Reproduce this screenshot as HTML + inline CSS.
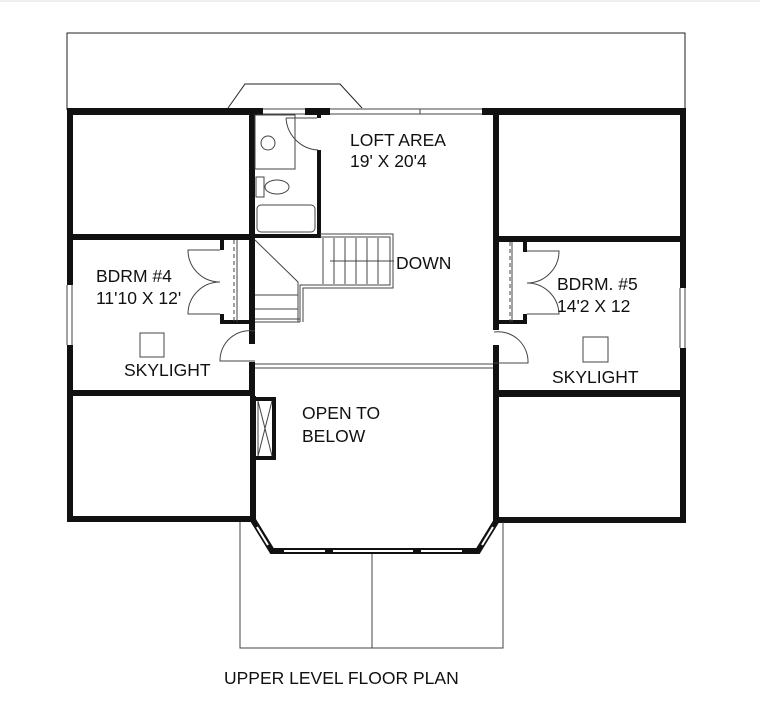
<!DOCTYPE html>
<html><head><meta charset="utf-8"><style>
html,body{margin:0;padding:0;background:#fff}
svg{display:block}
text{font-family:"Liberation Sans",Arial,sans-serif;font-size:17.5px;fill:#111}
</style></head><body>
<svg width="760" height="708" viewBox="0 0 760 708" xmlns="http://www.w3.org/2000/svg">
<rect width="760" height="708" fill="#fff"/>
<line x1="0" y1="1" x2="760" y2="1" stroke="#ddd" stroke-width="1"/>
<polyline points="67,110 67,33 685,33 685,110" fill="none" stroke="#222" stroke-width="1"/>
<polyline points="228,108 245,84 340,84 362,108" fill="none" stroke="#222" stroke-width="1"/>
<g fill="#111">
<rect x="67" y="108" width="196" height="7"/>
<rect x="305" y="108" width="25" height="7"/>
<rect x="482" y="108" width="204" height="7"/>
</g>
<g stroke="#444" stroke-width="1" fill="none">
<line x1="263" y1="109" x2="305" y2="109"/><line x1="263" y1="114" x2="305" y2="114"/>
<line x1="330" y1="109" x2="482" y2="109"/><line x1="330" y1="114" x2="482" y2="114"/>
<line x1="420" y1="109" x2="420" y2="114"/>
</g>
<g fill="#111">
<rect x="67" y="108" width="6" height="177"/>
<rect x="67" y="345" width="6" height="177"/>
<rect x="67" y="234" width="188" height="6"/>
<rect x="67" y="390" width="188" height="6"/>
<rect x="67" y="516" width="189" height="6"/>
<rect x="249" y="108" width="6" height="236"/>
<rect x="249" y="362" width="6" height="34"/>
<rect x="250" y="396" width="6" height="126"/>
<rect x="255" y="234" width="65" height="4"/>
<rect x="317" y="150" width="4" height="88"/>
<rect x="317" y="112" width="4" height="6"/>
<rect x="220" y="240" width="4" height="10"/>
<rect x="220" y="314" width="4" height="10"/>
<rect x="220" y="320" width="32" height="4"/>
<rect x="255" y="397" width="21" height="4"/>
<rect x="255" y="456" width="21" height="4"/>
<rect x="272" y="397" width="4" height="63"/>
<rect x="493" y="108" width="6" height="222"/>
<rect x="493" y="345" width="6" height="177"/>
<rect x="680" y="108" width="6" height="180"/>
<rect x="680" y="348" width="6" height="175"/>
<rect x="499" y="236" width="187" height="6"/>
<rect x="497" y="390" width="189" height="7"/>
<rect x="497" y="517" width="189" height="6"/>
<rect x="523" y="242" width="4" height="10"/>
<rect x="523" y="314" width="4" height="10"/>
<rect x="497" y="320" width="30" height="4"/>
</g>
<g stroke="#444" stroke-width="1" fill="none">
<line x1="67" y1="285" x2="67" y2="345"/><line x1="72" y1="285" x2="72" y2="345"/>
<line x1="680" y1="288" x2="680" y2="348"/><line x1="685" y1="288" x2="685" y2="348"/>
<line x1="258" y1="401" x2="272" y2="456"/><line x1="272" y1="401" x2="258" y2="456"/>
<line x1="258" y1="401" x2="258" y2="456"/>
<line x1="255" y1="364" x2="493" y2="364"/><line x1="255" y1="368" x2="493" y2="368"/>
<rect x="255" y="115" width="40" height="54"/>
<circle cx="268" cy="143" r="7"/>
<rect x="256" y="177" width="8" height="20"/>
<ellipse cx="277" cy="187" rx="12" ry="7"/>
<rect x="257" y="205" width="58" height="27" rx="4"/>
<path d="M286,118 A34,34 0 0 0 318,150"/>
<line x1="286" y1="118" x2="317" y2="118"/>
<path d="M220,250 L188,250 A32,32 0 0 0 220,282 A32,32 0 0 0 188,314 L220,314"/>
<line x1="234" y1="240" x2="234" y2="322" stroke-dasharray="4,3"/>
<line x1="237" y1="240" x2="237" y2="322"/>
<path d="M527,251 L559,251 A32,32 0 0 1 527,283 A32,32 0 0 1 559,314 L527,314"/>
<line x1="510" y1="242" x2="510" y2="322" stroke-dasharray="4,3"/>
<line x1="512" y1="242" x2="512" y2="322"/>
<path d="M255,331 A30,30 0 0 0 220,361 L255,361"/>
<path d="M494,332 A30,30 0 0 1 528,363 L494,363"/>
<rect x="140" y="333" width="24" height="24"/>
<rect x="583" y="337" width="25" height="25"/>
<path d="M255,240 L298,282 L298,322"/>
<line x1="255" y1="322" x2="300" y2="322"/>
<line x1="255" y1="319" x2="300" y2="319"/>
<path d="M300,322 L300,285 L390,285 L390,237 L320,237"/>
<path d="M303,322 L303,288 L393,288 L393,234 L320,234"/>
<line x1="323" y1="238" x2="323" y2="284"/>
<line x1="334" y1="238" x2="334" y2="284"/>
<line x1="345" y1="238" x2="345" y2="284"/>
<line x1="356" y1="238" x2="356" y2="284"/>
<line x1="367" y1="238" x2="367" y2="284"/>
<line x1="378" y1="238" x2="378" y2="284"/>
<line x1="255" y1="295" x2="298" y2="295"/>
<line x1="255" y1="309" x2="298" y2="309"/>
<line x1="330" y1="261" x2="394" y2="261"/>
<polyline points="240,522 240,648 503,648 503,522"/>
<line x1="372" y1="553" x2="372" y2="648"/>
</g>
<polyline points="253,520 272,551 478,551 497,520" fill="none" stroke="#111" stroke-width="6"/>
<g stroke="#fff" stroke-width="2" fill="none">
<line x1="257" y1="527" x2="268" y2="545"/>
<line x1="284" y1="551" x2="325" y2="551"/>
<line x1="333" y1="551" x2="413" y2="551"/>
<line x1="421" y1="551" x2="462" y2="551"/>
<line x1="493" y1="527" x2="482" y2="545"/>
</g>
<text x="350" y="146">LOFT AREA</text>
<text x="350" y="167">19' X 20'4</text>
<text x="396" y="269">DOWN</text>
<text x="96" y="282">BDRM #4</text>
<text x="96" y="304">11'10 X 12'</text>
<text x="124" y="376">SKYLIGHT</text>
<text x="557" y="290">BDRM. #5</text>
<text x="557" y="312">14'2 X 12</text>
<text x="552" y="383">SKYLIGHT</text>
<text x="302" y="419">OPEN TO</text>
<text x="302" y="442">BELOW</text>
<text x="224" y="684">UPPER LEVEL FLOOR PLAN</text>
</svg>
</body></html>
